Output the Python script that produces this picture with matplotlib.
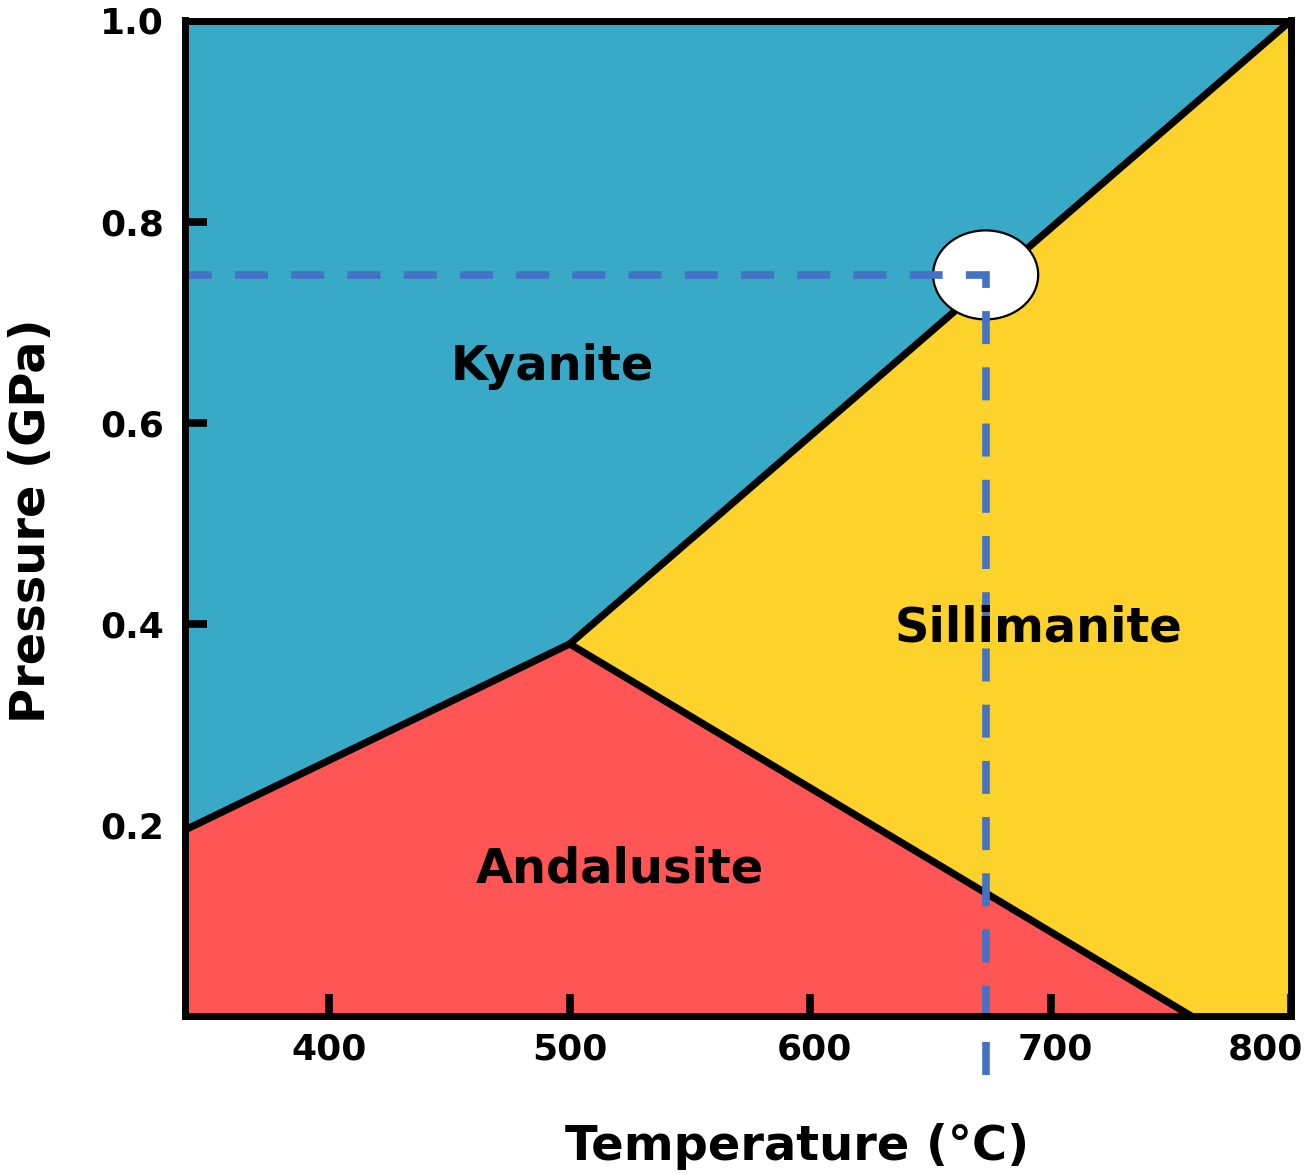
import matplotlib
matplotlib.use("Agg")
import matplotlib.pyplot as plt
from matplotlib.patches import Ellipse
from matplotlib.transforms import ScaledTranslation

# ---------------- data ----------------
T_lim = [340, 800]          # temperature range (deg C)
P_lim = [0.01, 1.0]         # pressure range (GPa)

x_ticks = [400, 500, 600, 700, 800]
x_ticklabels = ["400", "500", "600", "700", "800"]
y_ticks = [0.2, 0.4, 0.6, 0.8, 1.0]
y_ticklabels = ["0.2", "0.4", "0.6", "0.8", "1.0"]

# phase boundaries
ky_and_T = [340, 500]
ky_and_P = [0.195, 0.38]
ky_sil_T = [500, 800]
ky_sil_P = [0.38, 1.0]
and_sil_T = [500, 758.5]
and_sil_P = [0.38, 0.01]

# marked condition
point_T = 673
point_P = 0.747
dash_bottom_P = -0.0487

phase_names = ["Kyanite", "Andalusite", "Sillimanite"]
phase_colors = ["#38A9C7", "#FF5555", "#FDD22B"]
label_T = [492.6, 520.7, 694.8]
label_P = [0.642, 0.143, 0.3826]


plt.rcParams['font.family'] = ['DejaVu Sans']
fig = plt.figure(figsize=(13.06, 11.75), dpi=100)
ax = fig.add_axes([185 / 1306, 1 - 1016 / 1175, 1106 / 1306, 995.5 / 1175])
ax.set_xlim(*T_lim)
ax.set_ylim(*P_lim)

T0, T1 = T_lim
P0, P1 = P_lim
# kyanite field
ky_T = [T0] + ky_and_T + ky_sil_T[1:] + [T0]
ky_P = [P1] + ky_and_P + ky_sil_P[1:] + [P1]
# andalusite field
an_T = [T0] + ky_and_T + and_sil_T[1:] + [T0]
an_P = [P0] + ky_and_P + and_sil_P[1:] + [P0]
# sillimanite field
si_T = ky_sil_T + [T1] + and_sil_T[::-1]
si_P = ky_sil_P + [P0] + and_sil_P[::-1]

ax.fill(ky_T, ky_P, color=phase_colors[0], lw=0, zorder=1)
ax.fill(an_T, an_P, color=phase_colors[1], lw=0, zorder=1)
ax.fill(si_T, si_P, color=phase_colors[2], lw=0, zorder=1)

for tt, pp in [(ky_and_T, ky_and_P), (ky_sil_T, ky_sil_P), (and_sil_T, and_sil_P)]:
    ax.plot(tt, pp, color="black", lw=5.2, solid_capstyle="butt", zorder=3)

ell = Ellipse((point_T, point_P), width=43.7, height=0.0885,
              facecolor="white", edgecolor="black", lw=1.6, zorder=4)
ax.add_patch(ell)

# dashed guide, drawn from the bottom up to the point and then left to the axis
ax.plot([point_T, point_T, T0], [dash_bottom_P, point_P, point_P],
        color="#4472C4", lw=5.5, linestyle=(0, (4.32, 3.04)),
        dash_capstyle="butt", dash_joinstyle="miter", zorder=5, clip_on=False)

for name, t, p in zip(phase_names, label_T, label_P):
    ax.text(t, p, name, ha="center", va="baseline", fontsize=34.5,
            fontweight="bold", color="black", zorder=6)

for s in ax.spines.values():
    s.set_linewidth(5)
    s.set_zorder(7)

ax.set_xticks(x_ticks)
ax.set_xticklabels(x_ticklabels)
ax.set_yticks(y_ticks)
ax.set_yticklabels(y_ticklabels)
ax.tick_params(axis="both", direction="in", length=16, width=5.5,
               labelsize=26, colors="black")
ax.tick_params(axis="x", pad=12)
ax.tick_params(axis="y", pad=15)
for lab in ax.get_xticklabels() + ax.get_yticklabels():
    lab.set_fontweight("bold")
for lab, dx in zip(ax.get_xticklabels(), [0, 0, 4, 5, -26]):
    lab.set_transform(lab.get_transform() + ScaledTranslation(dx / 100, 0, fig.dpi_scale_trans))
# tick marks at 0.2 and 1.0 are hidden under the boundary line / top spine
yt = ax.yaxis.get_major_ticks()
yt[0].tick1line.set_visible(False)
yt[-1].tick1line.set_visible(False)

fig.text(797.3 / 1306, 1 - 1160 / 1175, "Temperature (°C)", ha="center",
         va="baseline", fontsize=34.5, fontweight="bold")
fig.text(32 / 1306, 1 - 521 / 1175, "Pressure (GPa)", ha="center", va="center",
         rotation=90, fontsize=34.5, fontweight="bold")

fig.savefig("out.png", dpi=100)
